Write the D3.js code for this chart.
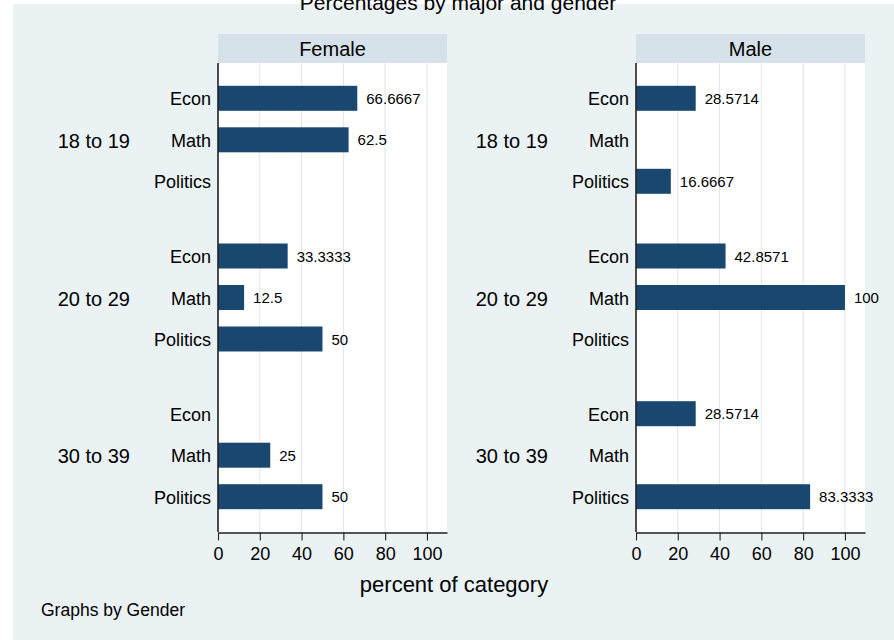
<!DOCTYPE html>
<html>
<head>
<meta charset="utf-8">
<script src="https://cdn.jsdelivr.net/npm/d3@7"></script>
<style>
  html, body { margin: 0; padding: 0; background: #ffffff; }
  svg { display: block; font-family: "Liberation Sans", Arial, Helvetica, sans-serif; }
</style>
</head>
<body>
<svg id="chart" width="894" height="640"></svg>
<script>
// ---- data ----
const genders = ["Female", "Male"];
const ageGroups = ["18 to 19", "20 to 29", "30 to 39"];
const majors = ["Econ", "Math", "Politics"];
// percent of category, rows = age group, cols = major (null = no bar)
const femaleValues = [
  [66.6667, 62.5, null],
  [33.3333, 12.5, 50],
  [null, 25, 50]
];
const maleValues = [
  [28.5714, null, 16.6667],
  [42.8571, 100, null],
  [28.5714, null, 83.3333]
];
const xTicks = [0, 20, 40, 60, 80, 100];
const titleText = "Percentages by major and gender";
const xTitle = "percent of category";
const noteText = "Graphs by Gender";

const seriesByGender = { Female: femaleValues, Male: maleValues };

// ---- layout ----
const W = 894, H = 640;
const panelLeft = [218, 636];
const panelWidth = 229;
const stripTop = 34, stripH = 29;
const plotTop = 63, plotBottom = 532;
const barColor = "#1a476f";

const svg = d3.select("#chart");

svg.append("rect").attr("x", 0).attr("y", 0).attr("width", W).attr("height", H).attr("fill", "#ffffff");
svg.append("rect").attr("x", 13).attr("y", 4).attr("width", W - 13).attr("height", H - 4).attr("fill", "#eaf2f3");

svg.append("text")
  .attr("x", 458).attr("y", 9.5)
  .attr("text-anchor", "middle")
  .attr("font-size", 21)
  .attr("fill", "#000")
  .text(titleText);

const x = d3.scaleLinear().domain([0, 109.6]).range([0, panelWidth]);
const yAge = d3.scalePoint().domain(ageGroups).range([plotTop, plotBottom]).padding(0.487);
const yMajor = d3.scalePoint().domain(majors).range([-41.5, 41.5]);
const barH = 25;

genders.forEach((g, gi) => {
  const px = panelLeft[gi];
  const panel = svg.append("g").attr("transform", `translate(${px},0)`);

  // strip
  panel.append("rect")
    .attr("x", 0).attr("y", stripTop).attr("width", panelWidth).attr("height", stripH)
    .attr("fill", "#d6e2e9");
  panel.append("text")
    .attr("x", panelWidth / 2).attr("y", 55.5)
    .attr("text-anchor", "middle").attr("font-size", 20).attr("fill", "#000")
    .text(g);

  // plot region
  panel.append("rect")
    .attr("x", 0).attr("y", plotTop).attr("width", panelWidth).attr("height", plotBottom - plotTop)
    .attr("fill", "#ffffff");

  // grid
  panel.selectAll("line.grid").data(xTicks.filter(t => t > 0)).join("line")
    .attr("class", "grid")
    .attr("x1", d => x(d)).attr("x2", d => x(d))
    .attr("y1", plotTop).attr("y2", plotBottom)
    .attr("stroke", "#dce6ec").attr("stroke-width", 1);

  // bars
  const rows = [];
  ageGroups.forEach((a, ai) => majors.forEach((m, mi) => {
    rows.push({ age: a, major: m, value: seriesByGender[g][ai][mi] });
  }));
  const withBars = rows.filter(r => r.value !== null);

  panel.selectAll("rect.bar").data(withBars).join("rect")
    .attr("class", "bar")
    .attr("x", x(0))
    .attr("y", d => yAge(d.age) + yMajor(d.major) - barH / 2)
    .attr("width", d => x(d.value) - x(0))
    .attr("height", barH)
    .attr("fill", barColor);

  panel.selectAll("text.val").data(withBars).join("text")
    .attr("class", "val")
    .attr("x", d => x(d.value) + 9)
    .attr("y", d => yAge(d.age) + yMajor(d.major))
    .attr("dy", "0.38em")
    .attr("font-size", 15).attr("fill", "#000")
    .text(d => String(d.value));

  // category labels
  panel.selectAll("text.major").data(rows).join("text")
    .attr("class", "major")
    .attr("x", -7)
    .attr("y", d => yAge(d.age) + yMajor(d.major))
    .attr("dy", "0.4em")
    .attr("text-anchor", "end")
    .attr("font-size", 18).attr("fill", "#000")
    .text(d => d.major);

  panel.selectAll("text.age").data(ageGroups).join("text")
    .attr("class", "age")
    .attr("x", -88)
    .attr("y", d => yAge(d))
    .attr("dy", "0.4em")
    .attr("text-anchor", "end")
    .attr("font-size", 20).attr("fill", "#000")
    .text(d => d);

  // left axis line
  panel.append("line")
    .attr("x1", 0).attr("x2", 0).attr("y1", plotTop).attr("y2", plotBottom)
    .attr("stroke", "#222").attr("stroke-width", 1.6);

  // bottom axis
  const ax = panel.append("g")
    .attr("transform", `translate(0,${plotBottom + 0.5})`)
    .call(d3.axisBottom(x).tickValues(xTicks).tickFormat(d3.format("d"))
      .tickSize(8).tickSizeOuter(0).tickPadding(7));
  ax.select(".domain").attr("stroke", "#222").attr("stroke-width", 1.3);
  ax.selectAll(".tick line").attr("stroke", "#222").attr("stroke-width", 1.1);
  ax.selectAll(".tick text")
    .attr("font-size", 18).attr("fill", "#000")
    .attr("font-family", "Liberation Sans, Arial, sans-serif");
});

svg.append("text")
  .attr("x", 454).attr("y", 592)
  .attr("text-anchor", "middle").attr("font-size", 22).attr("fill", "#000")
  .text(xTitle);

svg.append("text")
  .attr("x", 41).attr("y", 615.5)
  .attr("font-size", 17.5).attr("fill", "#000")
  .text(noteText);
</script>
</body>
</html>
